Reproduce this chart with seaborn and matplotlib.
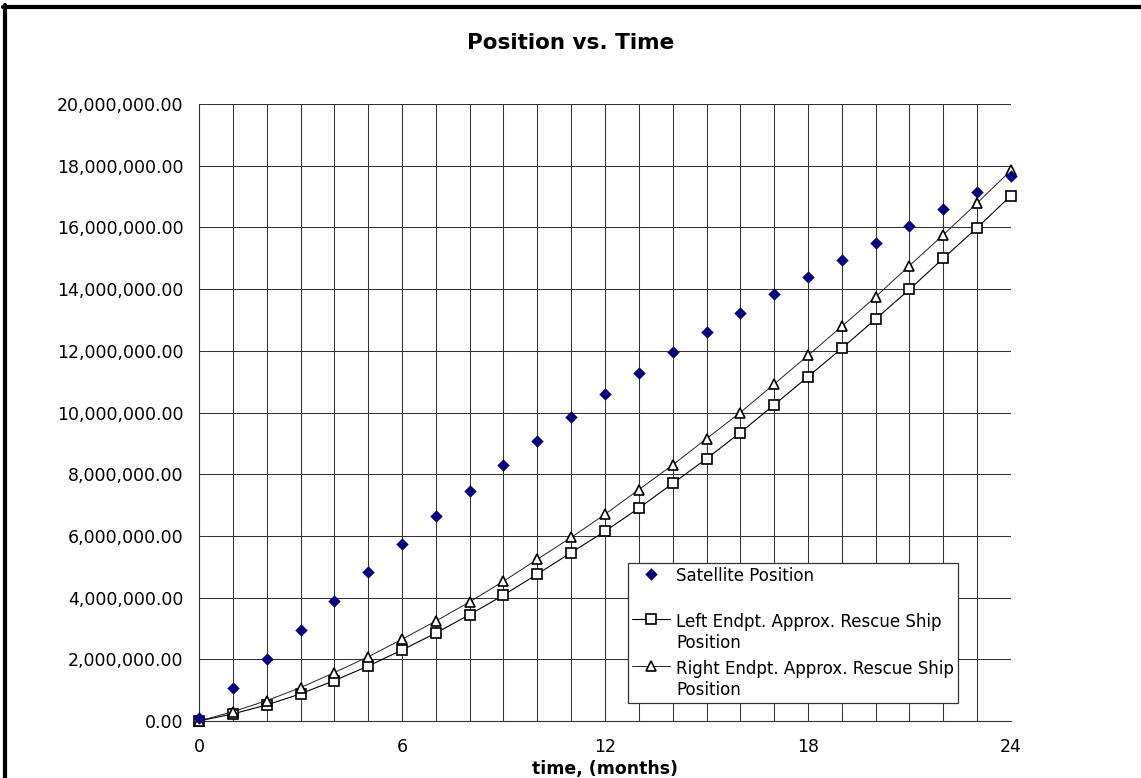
import numpy as np
import pandas as pd
import seaborn as sns
import matplotlib
matplotlib.use('Agg')
from matplotlib import pyplot as plt
from matplotlib.lines import Line2D
from matplotlib.ticker import MultipleLocator, FuncFormatter

# values, positions in millions
months = list(range(25))
satellite = [0.10, 1.06, 2.00, 2.96, 3.90, 4.84, 5.74, 6.63, 7.47, 8.29, 9.08,
             9.86, 10.60, 11.29, 11.95, 12.62, 13.24, 13.84, 14.40, 14.93,
             15.48, 16.03, 16.60, 17.14, 17.68]
left_endpt = [0.00, 0.23, 0.52, 0.88, 1.31, 1.78, 2.30, 2.85, 3.45, 4.08, 4.76,
              5.46, 6.15, 6.90, 7.70, 8.50, 9.35, 10.25, 11.16, 12.08, 13.03,
              13.99, 15.00, 15.99, 17.03]
right_endpt = [0.00, 0.30, 0.66, 1.08, 1.57, 2.08, 2.65, 3.24, 3.86, 4.53, 5.24,
               5.95, 6.70, 7.50, 8.30, 9.15, 10.00, 10.92, 11.85, 12.79, 13.75,
               14.76, 15.76, 16.79, 17.85]
labels = ['Satellite Position',
          'Left Endpt. Approx. Rescue Ship\nPosition',
          'Right Endpt. Approx. Rescue Ship\nPosition']
x_ticks = [0, 6, 12, 18, 24]

df = pd.DataFrame({'t': months,
                   'sat': np.array(satellite) * 1e6,
                   'left': np.array(left_endpt) * 1e6,
                   'right': np.array(right_endpt) * 1e6})

sns.set_style('white')
plt.rcParams['font.family'] = ['DejaVu Sans']
plt.rcParams['text.color'] = 'black'
plt.rcParams['axes.labelcolor'] = 'black'

W, H = 1141, 778
fig = plt.figure(figsize=(W / 100, H / 100), dpi=100)
ax = fig.add_axes([199 / W, 1 - 721 / H, 812 / W, 617 / H])

grid_kw = dict(color='#333333', linewidth=0.75, zorder=0)
for m in months:
    ax.axvline(m, **grid_kw)
for v in np.arange(0, 20.1e6, 2e6):
    ax.axhline(v, **grid_kw)

sns.lineplot(data=df, x='t', y='left', ax=ax, color='black', linewidth=0.8,
             marker='s', markersize=6.5, markerfacecolor='white',
             markeredgecolor='black', markeredgewidth=1.2,
             label=labels[1], clip_on=False, zorder=3)
sns.lineplot(data=df, x='t', y='right', ax=ax, color='#222222', linewidth=0.7,
             marker='^', markersize=7.5, markerfacecolor='white',
             markeredgecolor='black', markeredgewidth=1.2,
             label=labels[2], clip_on=False, zorder=4)
sns.scatterplot(data=df, x='t', y='sat', ax=ax, marker='D', s=40,
                color='#000080', edgecolor='#000080', linewidth=0,
                label=labels[0], clip_on=False, zorder=5)

ax.set_xlim(0, 24)
ax.set_ylim(0, 20e6)
ax.set_xticks(x_ticks)
ax.xaxis.set_minor_locator(MultipleLocator(1))
ax.yaxis.set_major_locator(MultipleLocator(2e6))
ax.yaxis.set_major_formatter(FuncFormatter(lambda v, p: '{:,.2f}'.format(v)))
ax.tick_params(axis='both', which='major', direction='out', length=5,
               width=0.8, color='#333333', labelsize=12.5, labelcolor='black')
ax.tick_params(axis='x', which='major', pad=7)
ax.tick_params(axis='y', which='major', pad=6)
ax.tick_params(axis='x', which='minor', length=0)
ax.set_ylabel('')
ax.set_xlabel('time, (months)', fontsize=12.5, fontweight='bold')
ax.xaxis.set_label_coords(0.5, -0.063)
for s in ['top', 'right']:
    ax.spines[s].set_visible(False)
for s in ['left', 'bottom']:
    ax.spines[s].set_color('#333333')
    ax.spines[s].set_linewidth(0.8)

# legend, Satellite first like the original
h, l = ax.get_legend_handles_labels()
order = [2, 0, 1]
leg = ax.legend([h[i] for i in order],
                ['Satellite Position\n '] + [l[i] for i in order[1:]],
                loc='upper left', bbox_to_anchor=(628 / W, 1 - 563 / H),
                bbox_transform=fig.transFigure, borderaxespad=0,
                fontsize=12, frameon=True, fancybox=False, framealpha=1,
                edgecolor='#333333', handlelength=2.3, handletextpad=0.35,
                labelspacing=0.45, borderpad=0.25)
leg.get_frame().set_linewidth(0.9)
for col in leg._legend_handle_box.get_children():
    for row in col.get_children():
        row.align = 'top'

fig.text(0.5, 1 - 43 / H, 'Position vs. Time', ha='center', va='center',
         fontsize=15.5, fontweight='bold')

# thick frame at the top and left edges of the chart area
fig.add_artist(Line2D([3 / W, 1], [1 - 7 / H, 1 - 7 / H], color='black',
                      linewidth=3, transform=fig.transFigure))
fig.add_artist(Line2D([5 / W, 5 / W], [0, 1 - 5 / H], color='black',
                      linewidth=3, transform=fig.transFigure))

fig.savefig('out.png', dpi=100)
